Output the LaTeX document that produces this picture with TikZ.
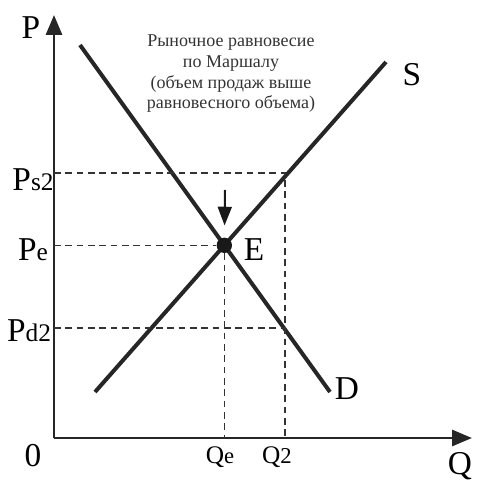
\documentclass[tikz,border=0pt]{standalone}
\usepackage{fontspec}
\setmainfont{Liberation Serif}
\usetikzlibrary{arrows.meta}

\begin{document}
\begin{tikzpicture}[x=0.75pt,y=-0.75pt,
    curve/.style={line width=3pt,black!85},
    axis/.style={line width=2.2pt,black!85,-{Triangle[length=15pt,width=12pt]}},
    guide/.style={line width=1.2pt,black!80,dash pattern=on 5pt off 3.5pt},
    big/.style={font=\fontsize{25}{27}\selectfont},
    small/.style={font=\fontsize{19}{21}\selectfont}]
  \useasboundingbox (0,0) rectangle (476,484);

  \coordinate (O) at (54,438);
  \coordinate (ytop) at (54,15);
  \coordinate (xend) at (472,438);
  \coordinate (d1) at (80,45);
  \coordinate (d2) at (330,392);
  \coordinate (s1) at (95,392);
  \coordinate (s2) at (386,62);
  \coordinate (sup) at (285,173);
  \coordinate (dem) at (284,328);
  \coordinate (mark) at (225,190);

  % axes
  \draw[axis] (O) -- (ytop);
  \draw[axis] (O) -- (xend);

  % demand and supply
  \draw[curve] (d1) -- (d2);
  \draw[curve] (s1) -- (s2);
  \node[circle,fill=black!90,inner sep=0pt,minimum size=11.5pt] (E)
    at (intersection of d1--d2 and s1--s2) {};

  % guides
  \draw[guide] (O |- sup) -- (sup) -- (sup |- O);
  \draw[guide] (O |- E) -- (E) -- (E |- O);
  \draw[guide] (O |- dem) -- (dem);
  \draw[line width=1.5pt,black!90,-{Triangle[length=14pt,width=10.5pt]},shorten >=9pt] (mark) -- (E);

  % labels
  \node[big] (P) at (31,28) {P};
  \node[big] (Q) at (460,466) {Q};
  \node[big] (zero) at (33,456) {0};
  \node[big] (S) at (412,75) {S};
  \node[big] (D) at (347,389) {D};
  \node[big] (El) at (254,250) {E};
  \node[big] (Ps2) at (33,180) {P{\fontsize{19}{21}\selectfont s2}};
  \node[big] (Pe) at (33,250) {P{\fontsize{19}{21}\selectfont e}};
  \node[big] (Pd2) at (29,331) {P{\fontsize{19}{21}\selectfont d2}};
  \node[small] (Qe) at (220,457) {Q{\fontsize{17}{19}\selectfont e}};
  \node[small] (Q2) at (277,457) {Q{\fontsize{17}{19}\selectfont 2}};
  \node[align=center,text=black!80,font=\fontsize{13.5}{15.5}\selectfont] (note) at (231,74)
    {Рыночное равновесие\\по Маршалу\\(объем продаж выше\\равновесного объема)};
\end{tikzpicture}
\end{document}
